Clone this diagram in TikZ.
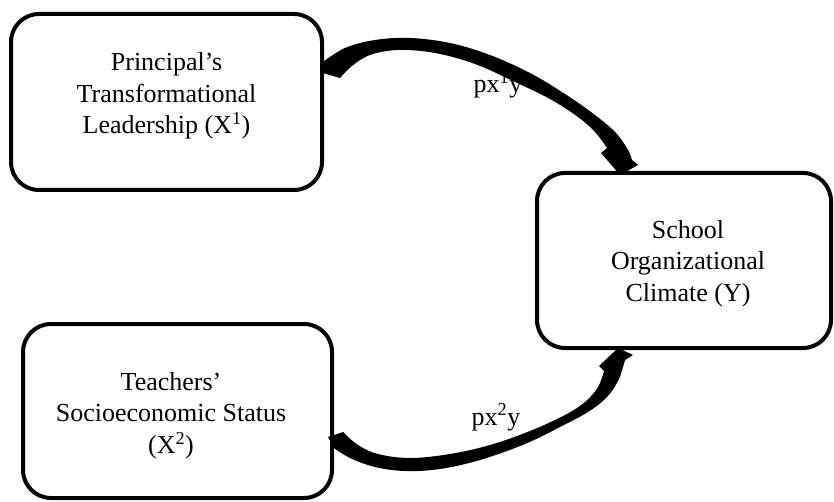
\documentclass[tikz,border=0pt]{standalone}
\usepackage{fontspec}
\setmainfont{Liberation Serif}
\begin{document}
\begin{tikzpicture}[x=1pt,y=-1pt,
  box/.style={draw,line width=4pt,rounded corners=28pt,inner sep=0pt},
  txt/.style={align=center,font=\fontsize{26}{31.5}\selectfont,inner sep=0pt},
  lbl/.style={font=\fontsize{26}{31.5}\selectfont,inner sep=0pt,anchor=base},
  blockarrow/.style={fill=black}]
\useasboundingbox (0,0) rectangle (834,502);
% boxes
\node[box,minimum width=311pt,minimum height=176pt] (x1) at (166.5,102) {};
\node[box,minimum width=294pt,minimum height=175pt] (y) at (684,260.5) {};
\node[box,minimum width=309pt,minimum height=174pt] (x2) at (177.5,411) {};
% texts
\node[txt] (x1t) at (166.5,96) {Principal’s\\Transformational\\Leadership (X\textsuperscript{1})};
\node[txt] (yt) at (688,263.5) {School\\Organizational\\Climate (Y)};
\node[txt] (x2t) at (171,415.5) {Teachers’\\Socioeconomic Status\\(X\textsuperscript{2})};
% labels
\node[lbl] (l1) at (498,93) {px\textsuperscript{1}y};
\node[lbl] (l2) at (496,425) {px\textsuperscript{2}y};
% top curved block arrow (X1 -> Y)
\fill[blockarrow] plot[smooth,tension=0.6] coordinates {(323,62) (345,48) (375,40) (410,38) (450,43) (490,55) (530,73) (565,94) (595,115) (616,133) (628,150) (632,160)}
  -- (638,165) -- (620,175) -- (601,153) -- (607,148)
  -- plot[smooth,tension=0.6] coordinates {(607,148) (595,132) (578,117) (550,99) (515,82) (475,64) (435,53) (398,50) (370,55) (352,66) (340,78)}
  -- (323,73) -- cycle;
% bottom curved block arrow (X2 -> Y)
\fill[blockarrow] plot[smooth,tension=0.6] coordinates {(334,448) (350,458) (375,467) (405,471) (440,469) (480,460) (525,444) (560,427) (588,412) (607,397) (618,381) (623,367) (625,360)}
  -- (633,355) -- (618,348) -- (599,366) -- (604,371)
  -- plot[smooth,tension=0.6] coordinates {(604,371) (598,387) (585,402) (565,415) (530,431) (490,445) (450,454) (410,458) (378,454) (358,445) (343,432)}
  -- (328,437) -- cycle;
\end{tikzpicture}
\end{document}
